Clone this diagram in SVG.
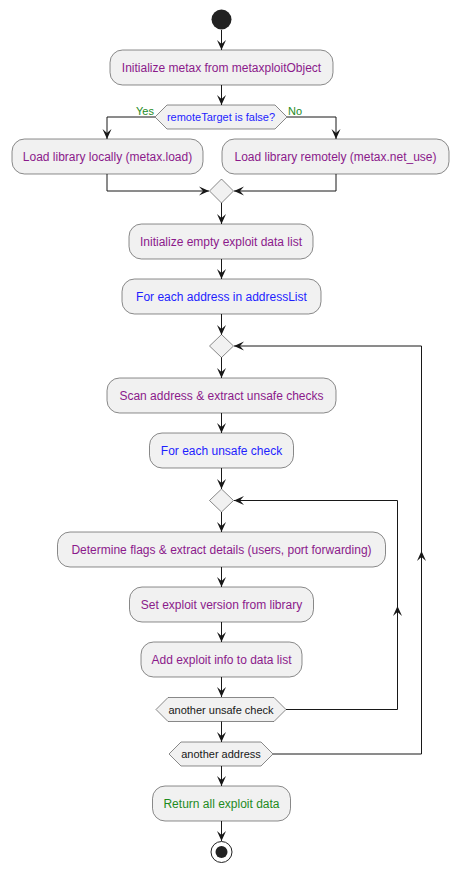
<svg xmlns="http://www.w3.org/2000/svg" width="460" height="873" viewBox="0 0 460 873">
<style>
.box{fill:#F1F1F1;stroke:#181818;stroke-width:0.5}
.t{font-family:"Liberation Sans",Arial,sans-serif;font-size:12px;text-anchor:middle}
.s{font-family:"Liberation Sans",Arial,sans-serif;font-size:11px}
.p{fill:#8B1A8B}
.b{fill:#1E1EFF}
.g{fill:#1E8B1E}
.k{fill:#181818}
.ln{fill:none;stroke:#181818;stroke-width:1}
</style>
<defs>
<marker id="ah" viewBox="0 0 10 10" refX="10" refY="5" markerWidth="10" markerHeight="10" markerUnits="userSpaceOnUse" orient="auto">
<path d="M0,0.5 L10,5 L0,9.5 L4,5 Z" fill="#181818"/>
</marker>
</defs>
<g id="connectors">
<path class="ln" d="M221.5,30 V50" marker-end="url(#ah)"/>
<path class="ln" d="M221.5,85 V105" marker-end="url(#ah)"/>
<path class="ln" d="M155,117 H107 V139" marker-end="url(#ah)"/>
<path class="ln" d="M287,117 H336 V139" marker-end="url(#ah)"/>
<path class="ln" d="M107,174 V191 H209" marker-end="url(#ah)"/>
<path class="ln" d="M336,174 V191 H234" marker-end="url(#ah)"/>
<path class="ln" d="M221.5,203 V224" marker-end="url(#ah)"/>
<path class="ln" d="M221.5,259 V279" marker-end="url(#ah)"/>
<path class="ln" d="M221.5,314 V335" marker-end="url(#ah)"/>
<path class="ln" d="M221.5,357 V378" marker-end="url(#ah)"/>
<path class="ln" d="M221.5,413 V433" marker-end="url(#ah)"/>
<path class="ln" d="M221.5,468 V489" marker-end="url(#ah)"/>
<path class="ln" d="M221.5,512 V532" marker-end="url(#ah)"/>
<path class="ln" d="M221.5,567 V587" marker-end="url(#ah)"/>
<path class="ln" d="M221.5,622 V642" marker-end="url(#ah)"/>
<path class="ln" d="M221.5,677 V697" marker-end="url(#ah)"/>
<path class="ln" d="M221.5,721 V742" marker-end="url(#ah)"/>
<path class="ln" d="M221.5,766 V786" marker-end="url(#ah)"/>
<path class="ln" d="M221.5,821 V841" marker-end="url(#ah)"/>
<path class="ln" d="M286,709.5 H397.5 V606" marker-end="url(#ah)"/>
<path class="ln" d="M397.5,606 V500.5 H234" marker-end="url(#ah)"/>
<path class="ln" d="M273,754 H421.5 V551" marker-end="url(#ah)"/>
<path class="ln" d="M421.5,551 V346 H234" marker-end="url(#ah)"/>
</g>
<g id="start"><circle cx="221.5" cy="19.5" r="10" fill="#222222"/></g>
<g id="n1"><rect class="box" x="110" y="50" width="223" height="35" rx="12.5"/><text class="t p" x="221.5" y="72">Initialize metax from metaxploitObject</text></g>
<g id="d1"><polygon class="box" points="155,117 167,105 275,105 287,117 275,129 167,129"/><text class="s b" x="221" y="121" text-anchor="middle">remoteTarget is false?</text>
<text class="s g" x="154" y="115" text-anchor="end">Yes</text><text class="s g" x="288" y="115">No</text></g>
<g id="n2"><rect class="box" x="12" y="139" width="191" height="35" rx="12.5"/><text class="t p" x="107.5" y="161">Load library locally (metax.load)</text></g>
<g id="n3"><rect class="box" x="222" y="139" width="227" height="35" rx="12.5"/><text class="t p" x="335.5" y="161">Load library remotely (metax.net_use)</text></g>
<g id="m1"><polygon class="box" points="221.5,179 233.5,191 221.5,203 209.5,191"/></g>
<g id="n4"><rect class="box" x="129" y="224" width="184" height="35" rx="12.5"/><text class="t p" x="221" y="246">Initialize empty exploit data list</text></g>
<g id="n5"><rect class="box" x="122" y="279" width="199" height="35" rx="12.5"/><text class="t b" x="221.5" y="301">For each address in addressList</text></g>
<g id="m2"><polygon class="box" points="221.5,334.5 233.5,346 221.5,357.5 209.5,346"/></g>
<g id="n6"><rect class="box" x="107" y="378" width="229" height="35" rx="12.5"/><text class="t p" x="221.5" y="400">Scan address &amp; extract unsafe checks</text></g>
<g id="n7"><rect class="box" x="149.5" y="433" width="144" height="35" rx="12.5"/><text class="t b" x="221.5" y="455">For each unsafe check</text></g>
<g id="m3"><polygon class="box" points="221.5,489 233.5,500.5 221.5,512 209.5,500.5"/></g>
<g id="n8"><rect class="box" x="57.5" y="532" width="328" height="35" rx="12.5"/><text class="t p" x="221.5" y="554">Determine flags &amp; extract details (users, port forwarding)</text></g>
<g id="n9"><rect class="box" x="129.5" y="587" width="184" height="35" rx="12.5"/><text class="t p" x="221.5" y="609">Set exploit version from library</text></g>
<g id="n10"><rect class="box" x="141" y="642" width="161" height="35" rx="12.5"/><text class="t p" x="221.5" y="664">Add exploit info to data list</text></g>
<g id="d2"><polygon class="box" points="156,709.5 168,697.5 274,697.5 286,709.5 274,721.5 168,721.5"/><text class="s k" x="221" y="713.5" text-anchor="middle">another unsafe check</text></g>
<g id="d3"><polygon class="box" points="169,754 181,742 261,742 273,754 261,766 181,766"/><text class="s k" x="221" y="758" text-anchor="middle">another address</text></g>
<g id="n11"><rect class="box" x="152.5" y="786" width="138" height="35" rx="12.5"/><text class="t g" x="221.5" y="808">Return all exploit data</text></g>
<g id="end"><circle cx="221.5" cy="852" r="10.5" fill="none" stroke="#222222" stroke-width="1"/><circle cx="221.5" cy="852" r="6" fill="#222222"/></g>
</svg>
